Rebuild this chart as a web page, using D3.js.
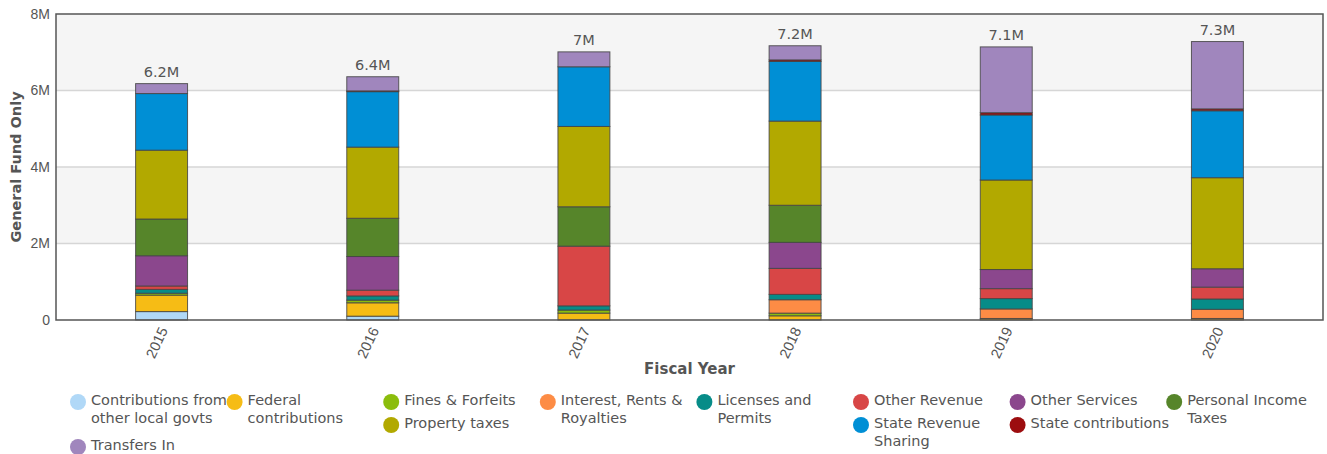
<!DOCTYPE html>
<html>
  <head>
    <title>General Fund Revenue by Fiscal Year</title>
    <style>
      body {
        margin: 0;
        font-family: 'DejaVu Sans', sans-serif;
        background: #fff;
      }
      svg text {
        fill: #555;
      }
    </style>
    <script src="https://d3js.org/d3.v7.min.js"></script>
  </head>
  <body>
    <svg id="chart" width="1327" height="454"></svg>
  </body>

  <script>
    // values in millions
    var years = ['2015', '2016', '2017', '2018', '2019', '2020'];
    var contribLocal = [0.22, 0.1, 0, 0, 0, 0];
    var federal = [0.43, 0.35, 0.18, 0.11, 0.04, 0.04];
    var fines = [0.05, 0.07, 0.08, 0.07, 0, 0];
    var interest = [0, 0, 0, 0.35, 0.25, 0.24];
    var licenses = [0.1, 0.11, 0.11, 0.14, 0.27, 0.27];
    var otherRevenue = [0.09, 0.15, 1.56, 0.68, 0.26, 0.31];
    var otherServices = [0.79, 0.88, 0, 0.68, 0.5, 0.48];
    var personalIncome = [0.96, 1.0, 1.03, 0.97, 0, 0];
    var propertyTaxes = [1.8, 1.86, 2.1, 2.2, 2.34, 2.38];
    var stateRevenue = [1.48, 1.45, 1.56, 1.56, 1.7, 1.75];
    var stateContrib = [0, 0.02, 0, 0.04, 0.06, 0.05];
    var transfersIn = [0.26, 0.37, 0.39, 0.37, 1.72, 1.76];

    var seriesNames = [
      'Contributions from other local govts',
      'Federal contributions',
      'Fines & Forfeits',
      'Interest, Rents & Royalties',
      'Licenses and Permits',
      'Other Revenue',
      'Other Services',
      'Personal Income Taxes',
      'Property taxes',
      'State Revenue Sharing',
      'State contributions',
      'Transfers In',
    ];
    var seriesValues = [
      contribLocal, federal, fines, interest, licenses, otherRevenue,
      otherServices, personalIncome, propertyTaxes, stateRevenue,
      stateContrib, transfersIn,
    ];
    var colors = [
      '#b0d8f7', '#f6bc15', '#8bbd0c', '#fd8c45', '#078c88', '#d84646',
      '#8b478d', '#56852a', '#b2a900', '#008fd5', '#9c0d0f', '#a086bd',
    ];
    var yTicks = [0, 2e6, 4e6, 6e6, 8e6];

    var data = years.map(function (yr, i) {
      var row = { year: yr };
      seriesNames.forEach(function (k, j) {
        row[k] = seriesValues[j][i] * 1e6;
      });
      row.total = d3.sum(seriesNames, (k) => row[k]);
      return row;
    });

    var svg = d3.select('#chart'),
      margin = { top: 14, left: 56, right: 4, bottom: 134 },
      width = +svg.attr('width'),
      height = +svg.attr('height');

    var x = d3
      .scaleBand()
      .domain(years)
      .range([margin.left, width - margin.right])
      .paddingInner(0.754)
      .paddingOuter(0.377);

    var y = d3
      .scaleLinear()
      .domain([0, 8e6])
      .range([height - margin.bottom, margin.top]);

    var z = d3.scaleOrdinal().domain(seriesNames).range(colors);

    // alternating background bands
    svg
      .append('g')
      .selectAll('rect')
      .data(d3.pairs(yTicks))
      .join('rect')
      .attr('x', margin.left)
      .attr('width', width - margin.right - margin.left)
      .attr('y', (d) => y(d[1]))
      .attr('height', (d) => y(d[0]) - y(d[1]))
      .attr('fill', (d, i) => (i % 2 ? '#f5f5f5' : '#fff'));

    svg
      .append('g')
      .selectAll('line')
      .data(yTicks.slice(1, -1))
      .join('line')
      .attr('x1', margin.left)
      .attr('x2', width - margin.right)
      .attr('y1', (d) => y(d))
      .attr('y2', (d) => y(d))
      .attr('stroke', '#d6d6d6')
      .attr('stroke-width', 1.5);

    // stacked bars
    var stack = d3.stack().keys(seriesNames)(data);

    svg
      .append('g')
      .selectAll('g.layer')
      .data(stack)
      .join('g')
      .attr('class', 'layer')
      .attr('fill', (d) => z(d.key))
      .selectAll('rect')
      .data((d) => d)
      .join('rect')
      .attr('x', (d) => x(d.data.year))
      .attr('width', x.bandwidth())
      .attr('y', (d) => y(d[1]))
      .attr('height', (d) => y(d[0]) - y(d[1]))
      .attr('stroke', '#444')
      .attr('stroke-opacity', 0.85)
      .attr('stroke-width', 1);

    // totals on top
    svg
      .append('g')
      .selectAll('text')
      .data(data)
      .join('text')
      .attr('x', (d) => x(d.year) + x.bandwidth() / 2)
      .attr('y', (d) => y(d.total) - 7)
      .attr('text-anchor', 'middle')
      .style('font-size', '14.5px')
      .text((d) => d3.format('.2~s')(d.total));

    // frame
    svg
      .append('rect')
      .attr('x', margin.left)
      .attr('y', margin.top)
      .attr('width', width - margin.right - margin.left)
      .attr('height', y(0) - margin.top)
      .attr('fill', 'none')
      .attr('stroke', '#555')
      .attr('stroke-width', 1.5);

    var yAxis = svg
      .append('g')
      .attr('transform', `translate(${margin.left},0)`)
      .call(
        d3
          .axisLeft(y)
          .tickValues(yTicks)
          .tickSize(0)
          .tickPadding(6)
          .tickFormat(d3.format('~s'))
      );
    yAxis.select('.domain').remove();
    yAxis.selectAll('text').style('font-size', '14px').style('fill', '#555');

    var xAxis = svg
      .append('g')
      .attr('transform', `translate(0,${y(0)})`)
      .call(d3.axisBottom(x).tickSize(0));
    xAxis.select('.domain').remove();
    xAxis
      .selectAll('text')
      .attr('y', 0)
      .attr('dy', '0.35em')
      .attr('text-anchor', 'end')
      .attr('transform', 'translate(2,8) rotate(-65)')
      .style('font-size', '14.5px')
      .style('fill', '#555');

    svg
      .append('text')
      .attr('x', (margin.left + width - margin.right) / 2)
      .attr('y', 374)
      .attr('text-anchor', 'middle')
      .style('font-size', '15px')
      .style('font-weight', 'bold')
      .text('Fiscal Year');

    svg
      .append('text')
      .attr('transform', `translate(21,${(margin.top + y(0)) / 2}) rotate(-90)`)
      .attr('text-anchor', 'middle')
      .style('font-size', '14.5px')
      .style('font-weight', 'bold')
      .text('General Fund Only');

    // legend: 8 columns, items drop into the shortest column
    var legend = svg.append('g').attr('class', 'legend');
    var colX = d3.range(8).map((i) => 78 + i * 156.6);
    var colY = colX.map(() => 400);
    var wrapWidth = 145;

    seriesNames.forEach(function (name, i) {
      var col = i < 8 ? i : d3.minIndex(colY);
      var g = legend
        .append('g')
        .attr('transform', `translate(${colX[col]},${colY[col]})`);
      g.append('circle')
        .attr('cx', 0)
        .attr('cy', 2)
        .attr('r', 8)
        .attr('fill', z(name));
      var t = g
        .append('text')
        .attr('x', 13)
        .attr('y', 0)
        .style('font-size', '14.5px');
      var words = name.split(' '),
        line = [],
        lines = 0,
        tspan = t.append('tspan').attr('x', 13).attr('dy', '0.35em');
      words.forEach(function (w) {
        line.push(w);
        tspan.text(line.join(' '));
        if (tspan.node().getComputedTextLength() > wrapWidth && line.length > 1) {
          line.pop();
          tspan.text(line.join(' '));
          line = [w];
          lines++;
          tspan = t
            .append('tspan')
            .attr('x', 13)
            .attr('dy', '18px')
            .text(w);
        }
      });
      colY[col] += 23 + lines * 22;
    });
  </script>
</html>
